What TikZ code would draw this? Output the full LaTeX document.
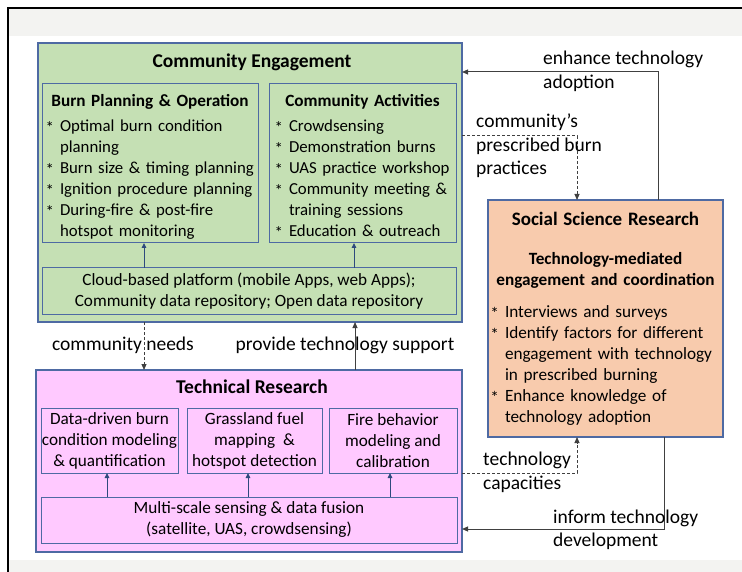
\documentclass[tikz,border=0pt]{standalone}
\usepackage{fontspec}
\setmainfont{Carlito}
\usetikzlibrary{ arrows.meta
               , positioning
               }
\definecolor{ceGreen}{HTML}{C5E0B4}
\definecolor{trPink}{HTML}{FFC9FF}
\definecolor{ssPeach}{HTML}{F8CBAD}
\definecolor{boxBlue}{HTML}{4E6AA3}
\definecolor{arrowBlue}{HTML}{2E4A7D}
\definecolor{lineGray}{HTML}{404040}
\definecolor{bandGray}{HTML}{F3F3F1}
\newcommand\bul[1]{\makebox[#1][r]{\raisebox{-.12em}{*}\hspace{6pt}}}
\newcommand\ind[1]{\hspace*{#1}}

\begin{document}
\begin{tikzpicture}
      [ x=1pt, y=-1pt
      , box/.style={draw=boxBlue, line width=1.3pt, inner sep=0pt, outer sep=0pt}
      , subbox/.style={box, line width=1pt}
      , body/.style={font=\fontsize{17.2}{21}\selectfont}
      , listbody/.style={font=\fontsize{16.8}{21}\selectfont}
      , bigbold/.style={font=\fontsize{19.5}{23.5}\selectfont\bfseries, inner sep=0pt}
      , lbl/.style={font=\fontsize{19.5}{23.5}\selectfont, align=left, inner sep=0pt}
      , inarrow/.style={draw=arrowBlue, line width=1pt, -{Triangle[length=5pt,width=4.5pt]}}
      , conn/.style={draw=lineGray, line width=1pt, -{Triangle[length=6pt,width=5pt]}}
      , dconn/.style={conn, dash pattern=on 3pt off 2pt}
      ]
    \useasboundingbox (0,0) rectangle (742,572);
    \fill[bandGray] (9,9) rectangle (742,36);
    \fill[bandGray] (9,560) rectangle (742,572);
    \draw[black, line width=2pt] (8,572) -- (8,8) -- (742,8);

    \node[box, fill=ceGreen, minimum width=424, minimum height=279] (ce) at (250,182.5) {};
    \node[bigbold] (cetitle) at (252,62) {Community Engagement};

    \node[subbox, listbody, fill=ceGreen, minimum width=216, minimum height=159,
          text width=216, align=left] (bp) at (150,163.5)
    {{\centering\fontsize{17.2}{21}\selectfont\bfseries\rule{0pt}{18pt}Burn Planning \& Operation\par}
     \vspace{4pt}
     \bul{18pt}Optimal burn condition\\
     \ind{18pt}planning\\
     \bul{18pt}Burn size \& timing planning\\
     \bul{18pt}Ignition procedure planning\\
     \bul{18pt}During-fire \& post-fire\\
     \ind{18pt}hotspot monitoring};

    \node[subbox, listbody, fill=ceGreen, minimum width=187, minimum height=159,
          text width=187, align=left] (ca) at (362.5,163.5)
    {{\centering\fontsize{17.2}{21}\selectfont\bfseries\rule{0pt}{18pt}Community Activities\par}
     \vspace{4pt}
     \bul{20pt}Crowdsensing\\
     \bul{20pt}Demonstration burns\\
     \bul{20pt}UAS practice workshop\\
     \bul{20pt}Community meeting \&\\
     \ind{20pt}training sessions\\
     \bul{20pt}Education \& outreach};

    \node[subbox, body, fill=ceGreen, minimum width=414, minimum height=46, align=center] (cloud) at (249,291)
    {Cloud-based platform (mobile Apps, web Apps);\\ Community data repository; Open data repository};

    \draw[inarrow] ([xshift=-6]bp.south |- cloud.north) -- ([xshift=-6]bp.south);
    \draw[inarrow] ([xshift=-8.5]ca.south |- cloud.north) -- ([xshift=-8.5]ca.south);

    \node[box, fill=trPink, minimum width=426, minimum height=182] (tr) at (249,461) {};
    \node[bigbold] (trtitle) at (252,387) {Technical Research};

    \node[subbox, body, fill=trPink, minimum width=137, minimum height=65, align=center] (tb1) at (109.5,440.5)
    {Data-driven burn\\ condition modeling\\ \& quantification};
    \node[subbox, body, fill=trPink, minimum width=135, minimum height=65, align=center] (tb2) at (254.5,440.5)
    {Grassland fuel\\ mapping~ \&\\ hotspot detection};
    \node[subbox, body, fill=trPink, minimum width=128, minimum height=65, align=center] (tb3) at (393,440.5)
    {Fire behavior\\ modeling and\\ calibration};
    \node[subbox, body, fill=trPink, minimum width=416, minimum height=46, align=center] (ms) at (249,520)
    {Multi-scale sensing \& data fusion\\ (satellite, UAS, crowdsensing)};

    \draw[inarrow] ([xshift=-2.5]tb1.south |- ms.north) -- ([xshift=-2.5]tb1.south);
    \draw[inarrow] ([xshift=-6.5]tb2.south |- ms.north) -- ([xshift=-6.5]tb2.south);
    \draw[inarrow] ([xshift=-3]tb3.south |- ms.north) -- ([xshift=-3]tb3.south);

    \node[box, body, fill=ssPeach, minimum width=235, minimum height=237,
          text width=235, align=left] (ssr) at (605.5,318.5)
    {{\centering\fontsize{19}{23}\selectfont\bfseries Social Science Research\par}
     \vspace{18pt}
     {\centering\bfseries Technology-mediated\\ engagement and coordination\par}
     \vspace{11pt}
     \bul{17pt}Interviews and surveys\\
     \bul{17pt}Identify factors for different\\
     \ind{17pt}engagement with technology\\
     \ind{17pt}in prescribed burning\\
     \bul{17pt}Enhance knowledge of\\
     \ind{17pt}technology adoption};

    \coordinate (cn) at (144,346);
    \draw[dconn] (ce.south -| cn) -- (tr.north -| cn);
    \node[lbl] (cnlabel) at (123,345) {community needs};

    \coordinate (pt) at (355,346);
    \draw[conn] (tr.north -| pt) -- (ce.south -| pt);
    \node[lbl] (ptlabel) at (345,345) {provide technology support};

    \coordinate (ea) at (658,72);
    \draw[conn] (ssr.north -| ea) |- (ce.east |- ea);
    \node[lbl, anchor=west] (ealabel) at (543,71.5) {enhance technology\\ adoption};

    \coordinate (pb) at (577,136);
    \draw[dconn] (ce.east |- pb) -| (ssr.north -| pb);
    \node[lbl, anchor=west] (pblabel) at (476,146) {community's\\ prescribed burn\\ practices};

    \coordinate (tc) at (577,473);
    \draw[dconn] (tr.east |- tc) -| (ssr.south -| tc);
    \node[lbl, anchor=west] (tclabel) at (483,472.5) {technology\\ capacities};

    \coordinate (it) at (664,529);
    \draw[conn] (ssr.south -| it) |- (tr.east |- it);
    \node[lbl, anchor=west] (itlabel) at (553,530) {inform technology\\ development};
\end{tikzpicture}
\end{document}
